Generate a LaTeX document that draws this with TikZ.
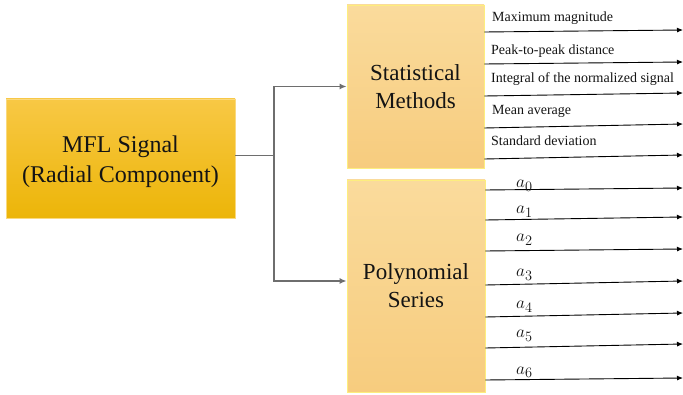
\documentclass[tikz,border=0pt]{standalone}
\usepackage{fontspec}
\setmainfont{Liberation Serif}[Ligatures=TeX]
\newfontfamily\labelfont{Liberation Serif}
\usetikzlibrary{arrows.meta,calc}
\definecolor{goldtop}{HTML}{F8C845}
\definecolor{goldbot}{HTML}{ECB508}
\definecolor{peachtop}{HTML}{FADB9C}
\definecolor{peachbot}{HTML}{F7CC7E}
\definecolor{linkgray}{HTML}{6E6E6E}
\definecolor{ink}{HTML}{141414}
\tikzset{
  mainbox/.style={rectangle, inner sep=0pt, top color=goldtop, bottom color=goldbot,
    draw=goldtop!70!white, line width=0.8pt, align=center, text=ink,
    font=\labelfont\fontsize{24}{30}\selectfont},
  subbox/.style={rectangle, inner sep=0pt, top color=peachtop, bottom color=peachbot,
    draw=peachtop!60!yellow!80!white, line width=0.8pt, align=center, text=ink,
    font=\labelfont\fontsize{23}{28}\selectfont},
  link/.style={draw=linkgray, line width=1.4pt, -{Latex[length=7pt,width=6pt]}},
  link0/.style={draw=linkgray, line width=1.4pt},
  outarrow/.style={draw=black, line width=0.9pt, -{Latex[length=6pt,width=5pt]}},
  featlabel/.style={anchor=west, inner sep=0pt, text=ink, font=\labelfont\fontsize{14}{16}\selectfont},
  coeflabel/.style={anchor=base west, inner sep=0pt, text=ink, font=\fontsize{19}{22}\selectfont},
}
\begin{document}
\begin{tikzpicture}[x=1pt,y=-1pt]
\useasboundingbox[fill=white] (0,0) rectangle (683,395);

% blocks
\node[mainbox, minimum width=229pt, minimum height=119pt] (mfl) at (120.5,158.5) {};
\node[anchor=center, align=center, text=ink, font=\labelfont\fontsize{24}{30}\selectfont, inner sep=0pt]
  (mfltext) at (120.5,162) {MFL Signal\\(Radial Component)};
\node[subbox, minimum width=137pt, minimum height=163pt] (stat) at (415.5,86.5)
  {Statistical\\Methods};
\node[subbox, minimum width=138pt, minimum height=212pt] (poly) at (416,286)
  {Polynomial\\Series};

% fork from the signal to both method blocks
\coordinate (fork) at ($(274,0)!(mfl.east)!(274,10)$);
\draw[link0] ([yshift=3pt]mfl.east) -- ([yshift=3pt]fork);
\draw[link] ([yshift=3pt]fork) |- (stat.west);
\draw[link] ([yshift=3pt]fork) |- ([yshift=5pt]poly.west);

% statistical features
\foreach \i/\ya/\yb in {1/32/30, 2/64/62, 3/96/93, 4/128/124, 5/159/155}{
  \coordinate (s\i) at (683,\yb);
  \draw[outarrow] (stat.east |- {(0,\ya)}) -- (s\i);
}
\node[featlabel] (f1) at (492,18) {Maximum magnitude};
\node[featlabel] (f2) at (491,51) {Peak-to-peak distance};
\node[featlabel] (f3) at (491,79) {Integral of the normalized signal};
\node[featlabel] (f4) at (492,111) {Mean average};
\node[featlabel] (f5) at (491,141) {Standard deviation};

% polynomial coefficients
\foreach \i/\ya/\yb in {0/190/188, 1/220/217, 2/251/249, 3/285/281, 4/317/313, 5/348/344, 6/380/378}{
  \coordinate (p\i) at (683,\yb);
  \draw[outarrow] (poly.east |- {(0,\ya)}) -- (p\i);
}
\node[coeflabel] (c0) at (516,188) {$a_0$};
\node[coeflabel] (c1) at (516,214) {$a_1$};
\node[coeflabel] (c2) at (516,242) {$a_2$};
\node[coeflabel] (c3) at (516,277) {$a_3$};
\node[coeflabel] (c4) at (516,309) {$a_4$};
\node[coeflabel] (c5) at (516,338) {$a_5$};
\node[coeflabel] (c6) at (516,374) {$a_6$};
\end{tikzpicture}
\end{document}
